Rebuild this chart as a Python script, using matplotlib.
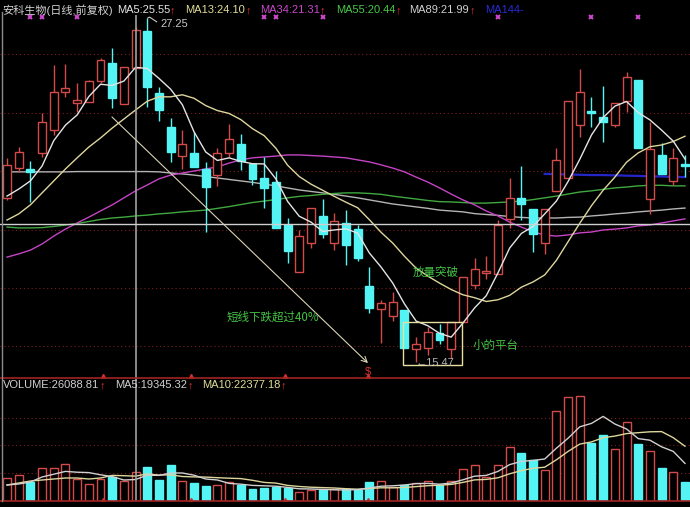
import numpy as np
import matplotlib
matplotlib.use('Agg')
import matplotlib.pyplot as plt
from matplotlib.patches import Rectangle
from matplotlib.lines import Line2D

plt.rcParams['font.family'] = ['Liberation Sans', 'Noto Sans CJK SC', 'DejaVu Sans']

# ---------------- data ----------------
opens = [21.09,22.11,22.08,22.63,23.41,24.72,24.34,24.37,25.09,25.71,
         24.30,25.54,26.80,24.68,23.52,22.52,22.63,22.08,21.87,22.63,
         22.93,22.25,21.77,21.63,20.16,18.55,19.54,20.47,19.54,20.23,
         20.02,18.07,17.28,17.04,17.25,15.91,15.95,16.46,15.91,16.84,
         18.11,18.52,18.48,20.37,21.09,20.71,19.54,21.33,21.77,23.59,
         24.07,23.86,23.59,24.41,25.13,21.05,22.56,21.67,22.25]
highs = [22.46,22.83,22.35,24.00,25.64,25.67,25.02,25.13,25.88,26.22,
         25.57,26.94,27.25,24.89,23.83,23.41,23.35,22.32,22.80,23.62,
         23.28,22.25,22.49,22.01,20.40,19.98,20.74,21.05,20.57,20.67,
         20.16,18.72,17.59,17.87,17.25,16.33,16.67,16.77,16.84,18.38,
         19.03,19.10,20.33,21.77,22.18,20.71,20.71,22.80,24.41,25.50,
         24.54,24.92,24.34,25.40,25.13,23.69,22.97,22.80,22.56]
lows = [21.02,21.98,20.95,22.49,23.24,24.54,24.03,24.37,25.02,24.17,
        24.30,25.54,24.20,23.72,22.32,22.08,22.15,19.92,21.50,22.49,
        22.04,21.53,20.74,20.06,18.86,18.55,19.37,19.72,19.30,18.79,
        18.93,17.15,16.12,16.87,15.95,15.47,15.71,16.09,15.61,16.84,
        17.97,18.31,18.48,20.06,20.33,19.24,19.17,21.33,21.77,23.17,
        23.52,23.00,23.52,24.03,22.80,20.54,21.91,21.53,21.80]
closes = [22.22,22.66,21.98,23.69,24.72,24.85,24.44,25.09,25.81,24.51,
          25.57,26.84,24.89,24.10,22.66,22.93,22.15,21.46,22.63,23.11,
          22.35,21.74,21.43,20.06,19.27,19.78,20.74,19.85,20.30,19.48,
          19.03,17.32,17.49,17.52,15.95,16.09,16.50,16.22,16.84,18.38,
          18.65,18.59,20.16,21.09,20.88,19.85,20.71,22.39,24.41,24.72,
          24.00,23.69,24.34,25.23,22.80,22.76,21.91,22.46,22.18]

ma5 = [21.15,21.39,21.67,22.18,23.05,23.58,23.93,24.56,24.98,24.94,
       25.09,25.56,25.52,25.18,24.81,24.28,23.35,22.66,22.37,22.46,
       22.34,22.26,22.25,21.74,20.97,20.46,20.26,19.94,19.99,20.03,
       19.88,19.20,18.72,18.17,17.46,16.87,16.71,16.45,16.32,16.80,
       17.32,17.74,18.52,19.37,19.87,20.11,20.54,20.98,21.65,22.41,
       23.24,23.84,24.23,24.39,24.01,23.76,23.41,23.03,22.42]
ma13 = [20.33,20.54,20.85,21.26,21.67,22.08,22.46,22.83,23.14,23.48,
        23.79,24.10,24.40,24.55,24.55,24.62,24.50,24.25,24.08,23.98,
        23.77,23.46,23.22,22.79,22.21,21.82,21.56,21.35,21.14,20.94,
        20.75,20.34,19.91,19.54,19.09,18.68,18.41,18.17,17.95,17.77,
        17.67,17.54,17.60,17.75,18.03,18.21,18.45,18.95,19.59,20.22,
        20.82,21.35,21.80,22.31,22.63,22.84,22.90,23.02,23.20]
ma34 = [19.06,19.17,19.30,19.51,19.78,20.02,20.23,20.43,20.64,20.85,
        21.09,21.33,21.53,21.74,21.87,21.94,22.01,22.08,22.15,22.28,
        22.39,22.46,22.49,22.52,22.56,22.56,22.54,22.52,22.49,22.46,
        22.39,22.32,22.22,22.11,21.98,21.80,21.63,21.43,21.22,21.02,
        20.85,20.64,20.47,20.26,20.09,19.92,19.82,19.78,19.82,19.89,
        19.92,19.99,20.02,20.06,20.13,20.16,20.23,20.30,20.37]
ma55 = [20.09,20.06,20.06,20.07,20.11,20.16,20.21,20.28,20.35,20.40,
        20.43,20.47,20.50,20.54,20.57,20.61,20.64,20.67,20.73,20.79,
        20.86,20.93,20.98,21.03,21.09,21.14,21.17,21.21,21.24,21.26,
        21.26,21.24,21.21,21.15,21.10,21.05,21.00,20.96,20.95,20.93,
        20.91,20.91,20.93,20.95,20.98,21.03,21.09,21.15,21.22,21.29,
        21.33,21.38,21.43,21.46,21.50,21.52,21.52,21.50,21.50]
ma89 = [21.98,21.98,21.98,21.98,21.98,21.98,21.99,21.99,21.99,21.99,
        21.99,21.99,21.99,21.98,21.94,21.91,21.87,21.82,21.77,21.72,
        21.67,21.62,21.56,21.50,21.43,21.36,21.31,21.26,21.21,21.15,
        21.09,21.02,20.95,20.88,20.83,20.78,20.73,20.67,20.64,20.61,
        20.55,20.52,20.49,20.45,20.42,20.40,20.40,20.40,20.42,20.43,
        20.47,20.50,20.54,20.57,20.61,20.64,20.67,20.71,20.74]
ma144_start = 46
ma144_vals = [21.91,21.90,21.89,21.88,21.87,21.87,21.86,21.85,21.84,21.83,21.82,21.81,21.80]

volume = [20700,23400,17100,29700,29700,33300,19800,15300,19800,21600,
          18000,26089,30600,18900,32400,18000,16200,13500,14400,17100,
          14400,10800,11700,12600,11700,8100,9900,9900,10800,10800,
          9900,17100,18000,12600,14400,16200,18000,14400,18000,28800,
          32400,21600,32400,48600,43200,36900,27900,81000,93600,94500,
          52200,59400,46800,71100,51300,45000,29700,26100,17100]
vol_ma5 = [14400,15300,17100,21600,24120,26640,25920,25560,23580,21960,
           18900,19345,23220,23040,25200,25200,23220,19800,18900,15840,
           15120,14040,13680,13320,12240,10980,10800,10440,10080,9900,
           10260,11700,13320,13680,14400,15660,15840,15120,16200,19080,
           22320,23040,26640,32760,35640,36540,37800,47520,56520,66780,
           69840,76140,69300,64800,56160,54720,48780,44640,33840]
vol_ma10 = [14400,16200,18000,18900,19800,20700,20700,19800,20700,23040,
            22770,22377,24390,23310,23580,22050,21690,21510,20970,20520,
            20160,18630,16740,16110,14040,13050,12420,12060,11700,11070,
            10620,11250,11880,11880,12150,12960,13770,14220,14940,16740,
            18990,19440,20880,24480,27360,29430,30420,37080,44640,51210,
            53190,56970,58410,60660,61470,62280,62460,56970,49320]

signal_idx = [2, 3, 6, 22, 23, 27, 42, 50, 54]
month_marks = [8.2, 15.7, 23.8, 30.9]
cross_idx = 11
cross_price = 20.195
price_grid = [16, 18, 20, 22, 24, 26]
vol_grid = [25000, 50000, 75000]

# ---------------- colours ----------------
RED = '#d24a4a'
CYAN = '#54f4f4'
C_MA5 = '#e4e4e4'
C_MA13 = '#ddd69c'
C_MA34 = '#c444c4'
C_MA55 = '#40a840'
C_MA89 = '#b4b4b4'
C_MA144 = '#2626c8'
GRID = '#7a1c1c'

W, H = 690, 507
fig = plt.figure(figsize=(W/100, H/100), dpi=100, facecolor='black')
ax = fig.add_axes([0, 1-378/H, 1, 378/H])
axv = fig.add_axes([0, 6/H, 1, 123/H])
for a in (ax, axv):
    a.set_facecolor('black')
    a.set_xlim(-0.6, 58.43)
    a.axis('off')
ax.set_ylim(14.92, 27.866)
axv.set_ylim(0, 110700)

n = len(closes)
x = np.arange(n)
o = np.array(opens); c = np.array(closes)
up = c >= o
cols = np.where(up, RED, CYAN)

for g in price_grid:
    ax.axhline(g, color=GRID, ls=(0, (1, 2.5)), lw=0.8, zorder=0)
for g in vol_grid:
    axv.axhline(g, color=GRID, ls=(0, (1, 2.5)), lw=0.8, zorder=0)

# moving averages (drawn behind candles)
ax.plot(x, ma89, color=C_MA89, lw=1.0, zorder=1)
ax.plot(x, ma55, color=C_MA55, lw=1.0, zorder=1)
ax.plot(x, ma34, color=C_MA34, lw=1.0, zorder=1)
ax.plot(np.arange(ma144_start, ma144_start+len(ma144_vals)), ma144_vals, color=C_MA144, lw=1.6, zorder=1)

# candles
ax.vlines(x, lows, highs, colors=cols, lw=1.0, zorder=2)
body_h = np.maximum(np.abs(c-o), 0.035)
ax.bar(x, body_h, bottom=np.minimum(o, c), width=0.68,
       color=np.where(up, 'black', CYAN), edgecolor=cols, linewidth=1.0, zorder=3)

ax.plot(x, ma13, color=C_MA13, lw=1.0, zorder=4)
ax.plot(x, ma5, color=C_MA5, lw=1.0, zorder=4)

# crosshair
ax.vlines(cross_idx, 14.92, 27.35, color='#a0a0a0', lw=1.2, zorder=5)
ax.axhline(cross_price, color='#cfcfcf', lw=1.0, zorder=5)
axv.axvline(cross_idx, color='#a0a0a0', lw=1.2, zorder=5)

# signal markers on top
ax.plot(signal_idx, [27.28]*len(signal_idx), ls='none', marker='x', ms=3.5, mew=1.4,
        color='#d048d0', zorder=6)

# annotations
ax.annotate('', xy=(30.88, 15.43), xytext=(8.98, 23.86),
            arrowprops=dict(arrowstyle='->', color='#d8d2b4', lw=0.8, shrinkA=0, shrinkB=0), zorder=6)
ax.text(30.9, 15.12, '$', color='#e03030', fontsize=8, ha='center', va='center', zorder=6)
ax.add_patch(Rectangle((33.87, 15.37), 5.05, 1.47, fill=False, edgecolor='#e6dfa0', lw=1.0, zorder=6))
ax.text(35.0, 15.45, '←15.47', color='#b4b4b4', fontsize=8, ha='left', va='center', zorder=7)
ax.plot([12.05, 12.2, 12.8], [27.25, 27.28, 27.12], color='#c8c8c8', lw=0.8, zorder=6)
ax.text(13.1, 27.03, '27.25', color='#c8c8c8', fontsize=8, ha='left', va='center', zorder=7)
cjk = ['Noto Sans CJK SC', 'DejaVu Sans']
GREEN_T = '#44c444'
ax.text(18.8, 17.01, '短线下跌超过40%', color=GREEN_T, fontsize=8.3, va='center', family=cjk, zorder=7)
ax.text(34.7, 18.55, '放量突破', color=GREEN_T, fontsize=8.3, va='center', family=cjk, zorder=7)
ax.text(39.8, 16.02, '小的平台', color=GREEN_T, fontsize=8.3, va='center', family=cjk, zorder=7)

# volume
vcols = np.where(up, 'black', CYAN)
axv.bar(x, volume, width=0.68, color=vcols, edgecolor=cols, linewidth=1.0, zorder=2)
axv.plot(x, vol_ma10, color=C_MA13, lw=1.0, zorder=3)
axv.plot(x, vol_ma5, color='#d0d0d0', lw=1.0, zorder=3)

# month ticks
for m in month_marks:
    ax.plot(m, 14.99, marker='^', ms=3, color='#d03030', zorder=7)
    axv.plot(m, 1200, marker='^', ms=3, color='#d03030', zorder=7)

# panel frame lines
def fline(x0, y0, x1, y1, **kw):
    fig.add_artist(Line2D([x0/W, x1/W], [1-y0/H, 1-y1/H], transform=fig.transFigure, **kw))
fline(0, 378, W, 378, color='#a02424', lw=1.2)
fline(0, 501, W, 501, color='#a02424', lw=1.2)
fline(2, 12, 2, 501, color='#8c8c8c', lw=1.0)

def ftext(xp, yp, s, color, size=8):
    fig.text(xp/W, 1-yp/H, s, color=color, fontsize=size, ha='left', va='center')

ARW = '#e03030'
ftext(2, 10, '安科生物(日线,前复权)', '#d0d0d0')
ftext(117, 10, 'MA5:25.55', C_MA5); ftext(170, 10, '↑', ARW)
ftext(185, 10, 'MA13:24.10', '#e0dc98'); ftext(246, 10, '↑', ARW)
ftext(260, 10, 'MA34:21.31', '#c848c8'); ftext(320, 10, '↑', ARW)
ftext(336, 10, 'MA55:20.44', '#48c848'); ftext(396, 10, '↑', ARW)
ftext(409, 10, 'MA89:21.99', '#d0d0d0'); ftext(470, 10, '↑', ARW)
ftext(485, 10, 'MA144-', '#2a2ad8')

ftext(3, 385, 'VOLUME:26088.81', '#d0d0d0'); ftext(100, 385, '↑', ARW)
ftext(115, 385, 'MA5:19345.32', '#d0d0d0'); ftext(188, 385, '↑', ARW)
ftext(202, 385, 'MA10:22377.18', '#e0dc98'); ftext(281, 385, '↑', ARW)

fig.savefig('out.png', dpi=100, facecolor='black')
